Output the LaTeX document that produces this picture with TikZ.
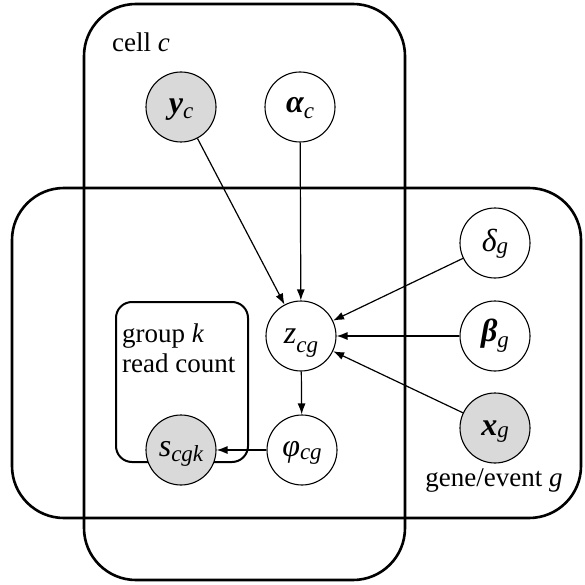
\documentclass[tikz,border=0pt]{standalone}
\usepackage{fontspec}
\setmainfont{Liberation Serif}
\usetikzlibrary{arrows.meta}
\definecolor{obsgray}{RGB}{217,217,217}
\newcommand\txtfont{\rmfamily\fontsize{27}{30}\selectfont}
\newcommand\mainlab{\rmfamily\fontsize{32}{32}\selectfont}
\newcommand\sublab{\rmfamily\fontsize{23}{24}\selectfont\itshape}
% #1 main symbol, #2 subscript, #3 main baseline below centre, #4 extra drop of subscript
\newcommand\myvar[4]{\smash{\raisebox{-#3pt}{\mainlab #1}\raisebox{\dimexpr-#3pt-#4pt\relax}{\sublab #2}}}
\begin{document}
\begin{tikzpicture}[x=1pt,y=-1pt,
  plate/.style={draw,line width=2.6pt,rounded corners=52pt},
  var/.style={circle,draw,line width=1.1pt,minimum size=70pt,inner sep=0pt,fill=white},
  obs/.style={var,fill=obsgray},
  edge/.style={-{Latex[length=11pt,width=8pt]},line width=1.2pt},
  lab/.style={font=\txtfont,inner sep=0pt}]
\useasboundingbox (0,0) rectangle (584,585);
% plates
\draw[plate] (84,4) rectangle (405,580);
\draw[plate] (12,188) rectangle (581,518);
\draw[line width=2pt,rounded corners=16pt] (116,302) rectangle (248,462);
% labels
\node[lab,anchor=base west] (lcell) at (112,52) {cell \textit{c}};
\node[lab,anchor=base west] (lgrp1) at (122,342) {group \textit{k}};
\node[lab,anchor=base west] (lgrp2) at (122,372) {read count};
\node[lab,anchor=base] (lgene) at (494,486) {gene/event \textit{g}};
% nodes
\node[obs] (y) at (181,107) {\myvar{\bfseries\itshape y}{c}{7}{5}};
\node[var] (a) at (300,107) {\myvar{\bfseries\itshape α}{c}{6}{6}};
\node[var] (z) at (301,336) {\myvar{\itshape z}{cg}{7}{9}};
\node[var] (d) at (495,243) {\myvar{\itshape δ}{g}{8}{2}};
\node[var] (b) at (495,336) {\myvar{\bfseries\itshape β}{g}{5}{6}};
\node[obs] (x) at (495,428) {\myvar{\bfseries\itshape x}{g}{7}{2}};
\node[var] (p) at (302,450) {\myvar{\itshape φ}{cg}{6}{3}};
\node[obs] (s) at (181,450) {\myvar{\itshape s}{cgk}{6}{5}};
% edges
\draw[edge] (y) -- (z);
\draw[edge] (a) -- (z);
\draw[edge] (d) -- (z);
\draw[edge] (b) -- (z);
\draw[edge] (x) -- (z);
\draw[edge] (z) -- (p);
\draw[edge] (p) -- (s);
\end{tikzpicture}
\end{document}
